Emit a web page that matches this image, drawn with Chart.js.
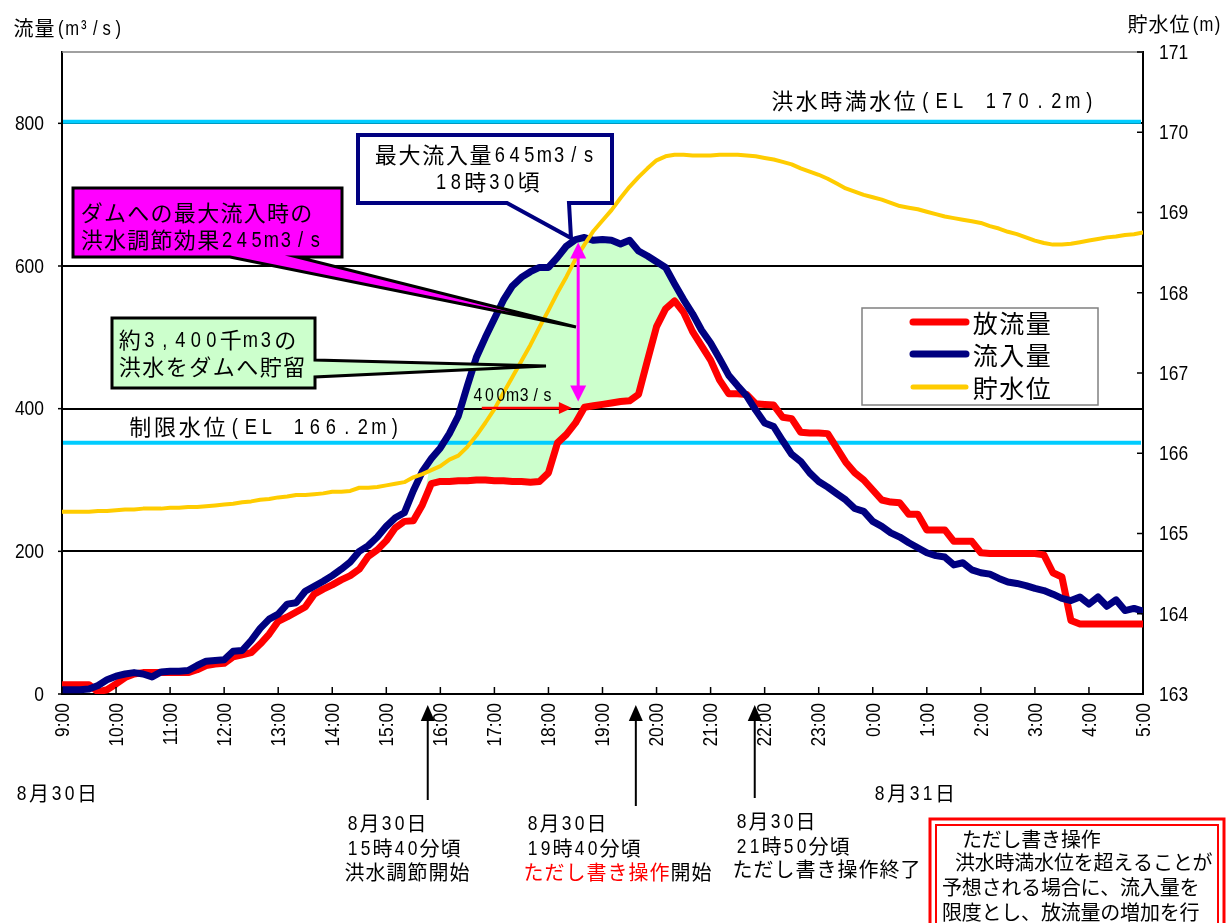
<!DOCTYPE html>
<html lang="ja">
<head>
<meta charset="utf-8">
<title>洪水調節</title>
<script src="https://cdn.jsdelivr.net/npm/chart.js@4.4.1/dist/chart.umd.min.js"></script>
<style>
  html, body { margin: 0; padding: 0; background: #fff; }
  #wrap { position: relative; width: 1226px; height: 923px; }
</style>
</head>
<body>
<div id="wrap"><canvas id="chart"></canvas></div>
<script>
// 8/30 9:00 - 8/31 5:00, one value every 10 minutes (6 per row = 1 hour)
const STEP = 10;
const hourLabels = ['9:00', '10:00', '11:00', '12:00', '13:00', '14:00', '15:00', '16:00', '17:00', '18:00',
  '19:00', '20:00', '21:00', '22:00', '23:00', '0:00', '1:00', '2:00', '3:00', '4:00', '5:00'];

// 流入量 (m3/s)
const inflow = [
  6, 6, 6, 7, 12, 20,
  25, 28, 30, 28, 24, 31,
  32, 32, 33, 40, 46, 47,
  48, 60, 61, 75, 92, 105,
  112, 126, 128, 144, 151, 158,
  166, 175, 185, 200, 208, 220,
  235, 247, 254, 285, 312, 330,
  345, 365, 390, 432, 472, 500,
  526, 552, 572, 584, 592, 598,
  598, 612, 628, 637, 640, 636,
  637, 636, 631, 636, 621, 614,
  606, 598, 575, 553, 533, 510,
  492, 470, 447, 432, 418, 398,
  380, 375, 355, 336, 326, 310,
  298, 290, 281, 272, 260, 256,
  242, 235, 226, 220, 212, 205,
  198, 194, 192, 181, 184, 174,
  170, 168, 162, 157, 155, 152,
  148, 145, 140, 134, 131, 136,
  126, 136, 123, 132, 117, 120,
  116
];

// 放流量 (m3/s)
const outflow = [
  13, 13, 13, 13, 3, 6,
  14, 23, 28, 30, 30, 30,
  30, 30, 30, 34, 40, 42,
  43, 52, 55, 58, 70, 84,
  102, 108, 115, 122, 140, 147,
  153, 160, 166, 175, 193, 202,
  215, 233, 242, 243, 265, 295,
  298, 298, 299, 299, 300, 300,
  299, 299, 298, 298, 297, 298,
  310, 352, 364, 380, 402, 404,
  406, 408, 410, 411, 420, 468,
  515, 540, 551, 535, 508, 488,
  468, 440, 421, 421, 420, 407,
  406, 405, 388, 386, 367, 366,
  366, 365, 345, 325, 310, 300,
  286, 272, 269, 268, 252, 252,
  230, 230, 230, 214, 214, 214,
  198, 197, 197, 197, 197, 197,
  197, 195, 170, 164, 103, 98,
  98, 98, 98, 98, 98, 98,
  98
];

// 貯水位 (m)
const level = [
  165.27, 165.27, 165.27, 165.27, 165.28, 165.28,
  165.29, 165.30, 165.30, 165.31, 165.31, 165.31,
  165.32, 165.32, 165.33, 165.33, 165.34, 165.35,
  165.36, 165.37, 165.39, 165.40, 165.42, 165.43,
  165.45, 165.46, 165.48, 165.48, 165.49, 165.50,
  165.52, 165.52, 165.53, 165.57, 165.57, 165.58,
  165.60, 165.62, 165.64, 165.70, 165.74, 165.79,
  165.84, 165.92, 165.97, 166.08, 166.22, 166.38,
  166.55, 166.75, 166.95, 167.15, 167.35, 167.57,
  167.78, 168.00, 168.20, 168.42, 168.60, 168.77,
  168.90, 169.03, 169.18, 169.32, 169.44, 169.55,
  169.65, 169.70, 169.72, 169.72, 169.71, 169.71,
  169.71, 169.72, 169.72, 169.72, 169.71, 169.70,
  169.68, 169.66, 169.63, 169.60, 169.55, 169.51,
  169.47, 169.42, 169.36, 169.30, 169.26, 169.22,
  169.19, 169.16, 169.12, 169.08, 169.06, 169.04,
  169.01, 168.98, 168.95, 168.93, 168.91, 168.89,
  168.87, 168.83, 168.80, 168.76, 168.73, 168.69,
  168.65, 168.62, 168.60, 168.60, 168.61, 168.63,
  168.65, 168.67, 168.69, 168.70, 168.72, 168.73,
  168.75
];

const seriesNames = ['放流量', '流入量', '貯水位'];
const flowTicks = [0, 200, 400, 600, 800];
// storage window (index range) shaded between inflow and outflow
const storeFrom = 41, storeTo = 68;
// reference water levels as drawn on the right axis
const refLevels = [170.13, 166.13];

const RED = '#FF0000', NAVY = '#000080', GOLD = '#FFCC00', CYAN = '#00CCFF';
const JP = '"Noto Sans CJK JP", sans-serif';
const LAT = '"Liberation Sans", Arial, sans-serif';
const SQUEEZE = 0.83;   // latin glyphs in the original are narrow

const pts = arr => arr.map((v, i) => ({ x: i * STEP, y: v }));
const storeLine = inflow.map((v, i) => ({ x: i * STEP, y: (i >= storeFrom && i <= storeTo) ? v : outflow[i] }));

// narrow latin text (tick labels)
function narrowText(ctx, txt, x, y, align, rot) {
  ctx.save();
  ctx.translate(x, y);
  if (rot) ctx.rotate(rot);
  ctx.scale(SQUEEZE, 1);
  ctx.font = '21px ' + LAT;
  ctx.textAlign = align;
  ctx.textBaseline = 'middle';
  ctx.fillStyle = '#000';
  ctx.fillText(txt, 0, 1);
  ctx.restore();
}

// draw text char by char: CJK chars and latin chars get their own cell widths
function rich(ctx, parts, x, y, o) {
  if (typeof parts === 'string') parts = [[parts, o.color || '#000']];
  const isLat = ch => ch.charCodeAt(0) < 0x2000;
  let total = 0;
  parts.forEach(p => { for (const ch of p[0]) total += isLat(ch) ? o.lat : o.cjk; });
  let cx = o.align === 'center' ? x - total / 2 : x;
  ctx.textBaseline = 'middle';
  ctx.textAlign = 'center';
  for (const [txt, col] of parts) {
    ctx.fillStyle = col;
    for (const ch of txt) {
      const l = isLat(ch);
      const w = l ? o.lat : o.cjk;
      if (ch !== ' ') {
        if (l) {
          ctx.save();
          ctx.translate(cx + w / 2, y + 1);
          ctx.scale(SQUEEZE, 1);
          ctx.font = (o.latSize || o.size) + 'px ' + LAT;
          ctx.fillText(ch, 0, 0);
          ctx.restore();
        } else {
          ctx.font = o.size + 'px ' + JP;
          ctx.fillText(ch, cx + w / 2, y);
        }
      }
      cx += w;
    }
  }
}

function shape(ctx, p, fill, stroke, lw) {
  ctx.beginPath();
  ctx.moveTo(p[0][0], p[0][1]);
  for (let i = 1; i < p.length; i++) ctx.lineTo(p[i][0], p[i][1]);
  ctx.closePath();
  ctx.fillStyle = fill;
  ctx.fill();
  ctx.lineJoin = 'miter';
  ctx.lineWidth = lw;
  ctx.strokeStyle = stroke;
  ctx.stroke();
}

function head(ctx, tx, ty, ux, uy, len, half) {
  const bx = tx - ux * len, by = ty - uy * len;
  ctx.beginPath();
  ctx.moveTo(tx, ty);
  ctx.lineTo(bx - uy * half, by + ux * half);
  ctx.lineTo(bx + uy * half, by - ux * half);
  ctx.closePath();
  ctx.fill();
}

function seg(ctx, x1, y1, x2, y2) {
  ctx.beginPath();
  ctx.moveTo(x1, y1);
  ctx.lineTo(x2, y2);
  ctx.stroke();
}

const annotate = {
  id: 'annotate',
  // grid + reference levels go above the shaded storage but under the lines
  afterDatasetDraw(chart, args) {
    if (args.index !== 3) return;
    const { ctx, chartArea: a, scales: { y, y2 } } = chart;
    ctx.save();
    ctx.strokeStyle = '#000';
    ctx.lineWidth = 2;
    flowTicks.slice(1).forEach(v => {
      const py = Math.round(y.getPixelForValue(v));
      seg(ctx, a.left, py, a.right, py);
    });
    ctx.strokeStyle = CYAN;
    ctx.lineWidth = 4;
    refLevels.forEach(v => {
      const py = y2.getPixelForValue(v);
      seg(ctx, a.left + 1, py, a.right - 2, py);
    });
    ctx.restore();
  },
  afterDraw(chart) {
    const { ctx, chartArea: a, scales: { x, y, y2 } } = chart;
    ctx.save();

    // frame details and tick marks
    ctx.strokeStyle = '#808080';
    ctx.lineWidth = 1.5;
    seg(ctx, a.left, a.top, a.right, a.top);
    ctx.strokeStyle = '#000';
    ctx.lineWidth = 1.5;
    x.ticks.forEach(t => {
      const px = x.getPixelForValue(t.value);
      seg(ctx, px, a.bottom, px, a.bottom - 7);
      narrowText(ctx, hourLabels[t.value / 60], px, a.bottom + 9, 'right', -Math.PI / 2);
    });
    y2.ticks.forEach(t => {
      const py = y2.getPixelForValue(t.value);
      seg(ctx, a.right, py, a.right - 6, py);
      narrowText(ctx, String(t.value), a.right + 16, py, 'left');
    });
    y.ticks.forEach(t => {
      const py = y.getPixelForValue(t.value);
      seg(ctx, a.left - 4, py, a.left, py);
      narrowText(ctx, String(t.value), a.left - 18, py, 'right');
    });

    // axis titles
    rich(ctx, '流量(m³/s)', 13, 28, { size: 20, cjk: 21, lat: 11.5, latSize: 20 });
    rich(ctx, '貯水位(m)', 1127, 24, { size: 20, cjk: 21, lat: 11, latSize: 20 });

    // level labels
    rich(ctx, '洪水時満水位(EL 170.2m)', 770, 101, { size: 22, cjk: 24.5, lat: 16.4, latSize: 22 });
    rich(ctx, '制限水位(EL 166.2m)', 128, 427, { size: 22, cjk: 24.7, lat: 16, latSize: 22 });

    // callout: max inflow
    shape(ctx, [[358, 135], [612, 135], [612, 203], [569, 203], [571, 238], [507, 203], [358, 203]], '#fff', NAVY, 4);
    rich(ctx, '最大流入量645m3/s', 485, 155, { size: 22, cjk: 23.7, lat: 14.8, latSize: 22, align: 'center' });
    rich(ctx, '18時30頃', 487, 182, { size: 22, cjk: 23.7, lat: 14.8, latSize: 22, align: 'center' });

    // callout: control effect
    shape(ctx, [[73, 188], [342, 188], [342, 257], [297, 257], [576, 327], [230, 257], [73, 257]], '#FF00FF', '#000', 3);
    rich(ctx, 'ダムへの最大流入時の', 80, 213, { size: 22, cjk: 23.3, lat: 14.7, latSize: 22 });
    rich(ctx, '洪水調節効果245m3/s', 80, 240, { size: 22, cjk: 23.3, lat: 14.7, latSize: 22 });

    // callout: storage
    shape(ctx, [[112, 318], [315, 318], [315, 360], [546, 366], [315, 377], [315, 388], [112, 388]], '#CCFFCC', '#000', 3);
    rich(ctx, '約3,400千m3の', 118, 340, { size: 22, cjk: 23.5, lat: 15.5, latSize: 22 });
    rich(ctx, '洪水をダムへ貯留', 118, 367, { size: 22, cjk: 23.5, lat: 15, latSize: 22 });

    // 245 m3/s double arrow
    ctx.strokeStyle = '#FF00FF';
    ctx.fillStyle = '#FF00FF';
    ctx.lineWidth = 3;
    const ax = x.getPixelForValue(573);
    const at = y.getPixelForValue(633), ab = y.getPixelForValue(410);
    seg(ctx, ax, at + 12, ax, ab - 12);
    head(ctx, ax, at, 0, -1, 16, 8);
    head(ctx, ax, ab, 0, 1, 16, 8);

    // 400 m3/s arrow
    ctx.strokeStyle = RED;
    ctx.fillStyle = RED;
    ctx.lineWidth = 2.5;
    const ry = y.getPixelForValue(401);
    const rx1 = x.getPixelForValue(466), rx2 = x.getPixelForValue(566);
    seg(ctx, rx1, ry, rx2 - 10, ry);
    head(ctx, rx2, ry, 1, 0, 13, 6);
    rich(ctx, '400m3/s', 472, 395, { size: 17, cjk: 18, lat: 11.6, latSize: 19 });

    // legend
    ctx.fillStyle = '#fff';
    ctx.fillRect(862, 308, 236, 97);
    ctx.strokeStyle = '#808080';
    ctx.lineWidth = 1.5;
    ctx.strokeRect(862, 308, 236, 97);
    const legendCols = [RED, NAVY, GOLD], legendW = [7, 7, 5], legendY = [322, 354, 387];
    seriesNames.forEach((n, i) => {
      ctx.strokeStyle = legendCols[i];
      ctx.lineWidth = legendW[i];
      ctx.lineCap = 'round';
      seg(ctx, 913, legendY[i], 966, legendY[i]);
      rich(ctx, n, 972, legendY[i] + 1, { size: 25, cjk: 26.5, lat: 13 });
    });
    ctx.lineCap = 'butt';

    // date labels
    rich(ctx, '8月30日', 15, 793, { size: 20, cjk: 22, lat: 13, latSize: 21 });
    rich(ctx, '8月31日', 873, 793, { size: 20, cjk: 22, lat: 13, latSize: 21 });

    // operation arrows
    ctx.strokeStyle = '#000';
    ctx.fillStyle = '#000';
    ctx.lineWidth = 2;
    const arrowAt = [406, 637, 769], arrowEnd = [800, 806, 798];
    arrowAt.forEach((m, i) => {
      const px = x.getPixelForValue(m);
      seg(ctx, px, 716, px, arrowEnd[i]);
      head(ctx, px, 705, 0, -1, 16, 7);
    });

    const note = { size: 20, cjk: 21, lat: 13, latSize: 21 };
    rich(ctx, '8月30日', 346, 823, note);
    rich(ctx, '15時40分頃', 346, 848, note);
    rich(ctx, '洪水調節開始', 344, 872, note);
    rich(ctx, '8月30日', 526, 823, note);
    rich(ctx, '19時40分頃', 526, 848, note);
    rich(ctx, [['ただし書き操作', RED], ['開始', '#000']], 523, 872, note);
    rich(ctx, '8月30日', 735, 821, note);
    rich(ctx, '21時50分頃', 735, 846, note);
    rich(ctx, 'ただし書き操作終了', 732, 869, note);

    // explanation box
    ctx.fillStyle = '#fff';
    ctx.fillRect(930, 819, 296, 110);
    ctx.strokeStyle = RED;
    ctx.lineWidth = 3;
    ctx.strokeRect(930, 819, 294, 120);
    ctx.lineWidth = 2;
    ctx.strokeRect(936, 825, 282, 115);
    const boxText = { size: 20, cjk: 19.8, lat: 10 };
    rich(ctx, 'ただし書き操作', 962, 839, boxText);
    rich(ctx, '洪水時満水位を超えることが', 955, 862, boxText);
    rich(ctx, '予想される場合に、流入量を', 942, 887, boxText);
    rich(ctx, '限度とし、放流量の増加を行', 942, 912, boxText);

    ctx.restore();
  }
};

new Chart(document.getElementById('chart'), {
  type: 'line',
  data: {
    datasets: [
      {
        label: seriesNames[0], data: pts(outflow), yAxisID: 'y',
        borderColor: RED, borderWidth: 7, order: 3
      },
      {
        label: seriesNames[1], data: pts(inflow), yAxisID: 'y',
        borderColor: NAVY, borderWidth: 7, order: 2
      },
      {
        label: seriesNames[2], data: pts(level), yAxisID: 'y2',
        borderColor: GOLD, borderWidth: 4, order: 1
      },
      {
        label: 'storage', data: storeLine, yAxisID: 'y',
        borderColor: 'rgba(0,0,0,0)', borderWidth: 1, order: 10,
        fill: { target: 0, above: '#CCFFCC', below: 'rgba(0,0,0,0)' }
      }
    ]
  },
  options: {
    responsive: true,
    maintainAspectRatio: false,
    animation: false,
    layout: { padding: { top: 52, left: 0, right: 0, bottom: 0 } },
    elements: {
      point: { radius: 0, hoverRadius: 0 },
      line: { tension: 0, borderJoinStyle: 'round', borderCapStyle: 'round' }
    },
    plugins: { legend: { display: false }, tooltip: { enabled: false } },
    scales: {
      x: {
        type: 'linear', min: 0, max: 1200,
        afterFit: s => { s.height = 229; },
        grid: { display: false, drawTicks: false },
        border: { display: true, color: '#000', width: 2 },
        ticks: { stepSize: 60, autoSkip: false, display: false }
      },
      y: {
        position: 'left', min: 0, max: 900,
        afterFit: s => { s.width = 62; },
        afterBuildTicks: s => { s.ticks = flowTicks.map(v => ({ value: v })); },
        grid: { display: false, drawTicks: false },
        border: { display: true, color: '#000', width: 2 },
        ticks: { display: false }
      },
      y2: {
        position: 'right', min: 163, max: 171,
        afterFit: s => { s.width = 83; },
        grid: { display: false, drawTicks: false },
        border: { display: true, color: '#000', width: 2 },
        ticks: { stepSize: 1, display: false }
      }
    }
  },
  plugins: [annotate]
});
</script>
</body>
</html>
